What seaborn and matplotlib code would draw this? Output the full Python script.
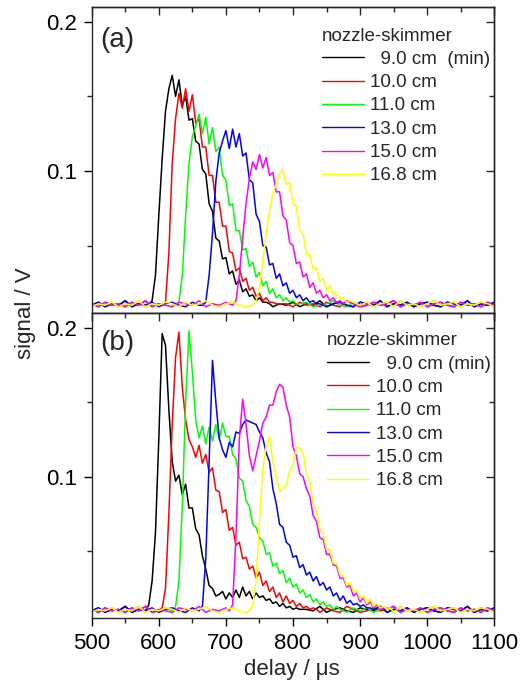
import numpy as np
import pandas as pd
import matplotlib
matplotlib.use("Agg")
import matplotlib.pyplot as plt
from matplotlib.ticker import MultipleLocator
import seaborn as sns

# ---------------- data ----------------
colors = ["#000000", "#ff0000", "#00ff00", "#0000ff", "#ff00ff", "#ffff00"]
labels_a = ["  9.0 cm  (min)", "10.0 cm", "11.0 cm", "13.0 cm", "15.0 cm", "16.8 cm"]
labels_b = ["  9.0 cm (min)", "10.0 cm", "11.0 cm", "13.0 cm", "15.0 cm", "16.8 cm"]

# baseline noise, sampled every 10 us from 500 us
base_1 = [0.010, 0.012, 0.009, 0.011, 0.010, 0.013, 0.009, 0.011, 0.010, 0.012,
          0.009, 0.011, 0.012, 0.010, 0.009, 0.012, 0.010, 0.011, 0.009, 0.013,
          0.010, 0.011, 0.009, 0.012, 0.010, 0.011, 0.013, 0.009, 0.011, 0.010,
          0.012, 0.009, 0.011, 0.010, 0.013, 0.009, 0.011, 0.012, 0.010, 0.009,
          0.012, 0.011, 0.010, 0.013, 0.009, 0.011, 0.010, 0.012, 0.009, 0.011,
          0.012, 0.010, 0.009, 0.012, 0.011, 0.010, 0.013, 0.009, 0.011, 0.010,
          0.012]
base_2 = [0.011, 0.009, 0.012, 0.010, 0.011, 0.009, 0.012, 0.010, 0.013, 0.009,
          0.011, 0.010, 0.009, 0.012, 0.011, 0.010, 0.013, 0.009, 0.011, 0.010,
          0.012, 0.009, 0.011, 0.010, 0.013, 0.010, 0.009, 0.012, 0.010, 0.011,
          0.009, 0.012, 0.010, 0.011, 0.009, 0.012, 0.010, 0.009, 0.013, 0.011,
          0.009, 0.010, 0.012, 0.010, 0.011, 0.013, 0.009, 0.011, 0.010, 0.012,
          0.009, 0.011, 0.012, 0.010, 0.009, 0.012, 0.010, 0.011, 0.009, 0.012,
          0.010]
base_3 = [0.009, 0.011, 0.010, 0.012, 0.009, 0.011, 0.010, 0.013, 0.009, 0.011,
          0.010, 0.012, 0.011, 0.009, 0.012, 0.010, 0.011, 0.013, 0.010, 0.009,
          0.011, 0.012, 0.010, 0.009, 0.011, 0.012, 0.010, 0.011, 0.009, 0.013,
          0.010, 0.011, 0.012, 0.009, 0.010, 0.011, 0.013, 0.010, 0.009, 0.012,
          0.010, 0.012, 0.009, 0.011, 0.012, 0.009, 0.013, 0.010, 0.011, 0.009,
          0.011, 0.013, 0.010, 0.011, 0.012, 0.009, 0.011, 0.010, 0.012, 0.011,
          0.009]
bases = [base_1, base_2, base_3]

# panel (a): pulse start times (us) and signal every 5 us
a_start = [585, 605, 625, 665, 710, 740]
a_black = [0.010, 0.013, 0.030, 0.070, 0.108, 0.140, 0.155, 0.164, 0.150, 0.161,
           0.144, 0.150, 0.134, 0.135, 0.120, 0.118, 0.101, 0.098, 0.078, 0.073,
           0.055, 0.053, 0.041, 0.042, 0.031, 0.033, 0.024, 0.027, 0.019, 0.021,
           0.016, 0.017, 0.013, 0.015, 0.012, 0.012, 0.011]
a_red = [0.010, 0.012, 0.045, 0.105, 0.135, 0.152, 0.142, 0.155, 0.140, 0.151,
         0.132, 0.135, 0.116, 0.116, 0.097, 0.097, 0.079, 0.079, 0.063, 0.063,
         0.046, 0.045, 0.033, 0.035, 0.026, 0.028, 0.020, 0.022, 0.016, 0.018,
         0.013, 0.015, 0.012, 0.012, 0.011, 0.011]
a_green = [0.010, 0.012, 0.030, 0.070, 0.105, 0.123, 0.130, 0.138, 0.125, 0.136,
           0.118, 0.129, 0.113, 0.116, 0.097, 0.094, 0.077, 0.078, 0.060, 0.060,
           0.047, 0.048, 0.036, 0.039, 0.029, 0.032, 0.023, 0.026, 0.018, 0.021,
           0.015, 0.017, 0.013, 0.015, 0.012, 0.013, 0.011, 0.011]
a_blue = [0.010, 0.012, 0.030, 0.058, 0.093, 0.112, 0.120, 0.127, 0.115, 0.128,
          0.116, 0.125, 0.110, 0.112, 0.094, 0.092, 0.071, 0.066, 0.050, 0.049,
          0.037, 0.038, 0.028, 0.031, 0.023, 0.025, 0.018, 0.020, 0.015, 0.017,
          0.013, 0.015, 0.012, 0.013, 0.011, 0.011]
a_magenta = [0.010, 0.013, 0.030, 0.055, 0.078, 0.095, 0.106, 0.101, 0.111, 0.102,
             0.109, 0.097, 0.099, 0.086, 0.086, 0.070, 0.067, 0.052, 0.050, 0.038,
             0.039, 0.029, 0.031, 0.022, 0.025, 0.018, 0.020, 0.015, 0.017, 0.013,
             0.015, 0.012, 0.013, 0.011]
a_yellow = [0.010, 0.013, 0.022, 0.040, 0.058, 0.073, 0.085, 0.091, 0.098, 0.101,
            0.091, 0.092, 0.078, 0.076, 0.060, 0.058, 0.044, 0.044, 0.034, 0.035,
            0.026, 0.028, 0.020, 0.023, 0.017, 0.018, 0.014, 0.015, 0.012, 0.013,
            0.012, 0.011]

# panel (b)
b_start = [580, 600, 620, 660, 705, 735]
b_black = [0.010, 0.014, 0.030, 0.062, 0.125, 0.196, 0.188, 0.145, 0.110, 0.097,
           0.101, 0.088, 0.095, 0.079, 0.079, 0.065, 0.061, 0.047, 0.038, 0.027,
           0.025, 0.020, 0.021, 0.023, 0.018, 0.022, 0.019, 0.024, 0.019, 0.026,
           0.020, 0.023, 0.018, 0.022, 0.019, 0.020, 0.017, 0.018, 0.015, 0.016,
           0.013, 0.015, 0.012, 0.013, 0.011, 0.012, 0.011]
b_red = [0.010, 0.012, 0.025, 0.075, 0.135, 0.180, 0.197, 0.160, 0.138, 0.125,
         0.120, 0.113, 0.121, 0.109, 0.115, 0.103, 0.106, 0.091, 0.090, 0.076,
         0.078, 0.064, 0.066, 0.054, 0.056, 0.045, 0.046, 0.038, 0.040, 0.032,
         0.036, 0.027, 0.030, 0.023, 0.026, 0.019, 0.022, 0.016, 0.020, 0.015,
         0.017, 0.013, 0.015, 0.012, 0.013, 0.011, 0.012, 0.011]
b_green = [0.010, 0.013, 0.030, 0.080, 0.150, 0.198, 0.170, 0.138, 0.126, 0.134,
           0.122, 0.133, 0.124, 0.135, 0.125, 0.136, 0.127, 0.127, 0.115, 0.112,
           0.099, 0.097, 0.084, 0.080, 0.068, 0.066, 0.059, 0.057, 0.048, 0.049,
           0.040, 0.042, 0.035, 0.037, 0.029, 0.032, 0.026, 0.028, 0.022, 0.024,
           0.019, 0.021, 0.016, 0.018, 0.014, 0.016, 0.013, 0.014, 0.011, 0.013,
           0.011]
b_blue = [0.010, 0.013, 0.045, 0.110, 0.178, 0.150, 0.126, 0.118, 0.113, 0.123,
          0.120, 0.130, 0.129, 0.135, 0.138, 0.137, 0.136, 0.135, 0.130, 0.126,
          0.116, 0.110, 0.092, 0.082, 0.068, 0.066, 0.056, 0.054, 0.046, 0.047,
          0.039, 0.041, 0.034, 0.036, 0.030, 0.033, 0.027, 0.029, 0.024, 0.026,
          0.020, 0.022, 0.017, 0.020, 0.015, 0.017, 0.014, 0.015, 0.013, 0.014,
          0.012, 0.012, 0.011]
b_magenta = [0.010, 0.014, 0.060, 0.125, 0.152, 0.135, 0.114, 0.104, 0.114, 0.124,
             0.136, 0.140, 0.148, 0.148, 0.157, 0.162, 0.160, 0.148, 0.140, 0.120,
             0.114, 0.102, 0.100, 0.092, 0.087, 0.074, 0.070, 0.059, 0.058, 0.048,
             0.048, 0.041, 0.040, 0.032, 0.032, 0.026, 0.027, 0.020, 0.022, 0.016,
             0.019, 0.014, 0.016, 0.012, 0.014, 0.011, 0.012]
b_yellow = [0.010, 0.014, 0.030, 0.070, 0.105, 0.121, 0.127, 0.110, 0.100, 0.090,
            0.092, 0.094, 0.104, 0.108, 0.120, 0.119, 0.116, 0.102, 0.097, 0.082,
            0.077, 0.065, 0.062, 0.051, 0.051, 0.042, 0.042, 0.034, 0.034, 0.027,
            0.029, 0.023, 0.024, 0.018, 0.020, 0.015, 0.018, 0.013, 0.015, 0.012,
            0.013, 0.011, 0.012]

a_series = [a_black, a_red, a_green, a_blue, a_magenta, a_yellow]
b_series = [b_black, b_red, b_green, b_blue, b_magenta, b_yellow]


def build(starts, series, labels):
    rows = []
    for i, (t0, vals, lab) in enumerate(zip(starts, series, labels)):
        base = np.asarray(bases[i % 3])
        tb = 500 + 10 * np.arange(len(base))
        tp = t0 + 5 * np.arange(len(vals))
        before = tb < tp[0]
        after = tb > tp[-1]
        t = np.concatenate([tb[before], tp, tb[after]])
        v = np.concatenate([base[before], np.asarray(vals), base[after]])
        rows.append(pd.DataFrame({"t": t, "v": v, "series": lab}))
    return pd.concat(rows, ignore_index=True)


df_a = build(a_start, a_series, labels_a)
df_b = build(b_start, b_series, labels_b)

# ---------------- styling ----------------
sns.set_style("ticks")
plt.rcParams["font.family"] = ["Liberation Sans", "DejaVu Sans"]
plt.rcParams["axes.linewidth"] = 1.0

fig = plt.figure(figsize=(5.23, 6.86), dpi=100)
L, R = 91.7 / 523, 494.3 / 523
ax_a = fig.add_axes([L, 1 - 312.7 / 686, R - L, (312.7 - 6.7) / 686])
ax_b = fig.add_axes([L, 1 - 618.3 / 686, R - L, (618.3 - 312.7) / 686])

panels = [(ax_a, df_a, labels_a, "(a)", (0.571, 0.932), 0.89),
          (ax_b, df_b, labels_b, "(b)", (0.584, 0.936), 0.90)]

for ax, df, labs, tag, anchor, tag_y in panels:
    sns.lineplot(data=df, x="t", y="v", hue="series", hue_order=labs,
                 palette=colors, ax=ax, lw=1.1, sort=False, estimator=None,
                 units="series")
    ax.set_xlim(500, 1100)
    ax.set_ylim(0.005, 0.21)
    ax.set_xlabel("")
    ax.set_ylabel("")
    ax.set_yticks([0.1, 0.2], ["0.1", "0.2"])
    ax.yaxis.set_minor_locator(MultipleLocator(0.05))
    ax.xaxis.set_major_locator(MultipleLocator(100))
    ax.xaxis.set_minor_locator(MultipleLocator(50))
    ax.tick_params(which="major", direction="out", length=5.8, width=1.0,
                   labelsize=16, pad=4.5, colors="black")
    ax.tick_params(which="minor", direction="out", length=3.4, width=1.0)
    for side in ["top", "right"]:
        ax.spines[side].set_visible(True)
    secx = ax.secondary_xaxis("top")
    secx.xaxis.set_major_locator(MultipleLocator(100))
    secx.xaxis.set_minor_locator(MultipleLocator(50))
    secx.tick_params(which="major", direction="in", length=5.8, width=1.0, labeltop=False)
    secx.tick_params(which="minor", direction="in", length=3.6, width=1.0)
    secy = ax.secondary_yaxis("right")
    secy.set_yticks([0.1, 0.2])
    secy.yaxis.set_minor_locator(MultipleLocator(0.05))
    secy.tick_params(which="major", direction="in", length=5.8, width=1.0, labelright=False)
    secy.tick_params(which="minor", direction="in", length=3.6, width=1.0)

    handles, hl = ax.get_legend_handles_labels()
    leg = ax.legend(handles, hl, title="nozzle-skimmer", loc="upper left",
                    bbox_to_anchor=anchor, frameon=False, fontsize=13.5,
                    title_fontsize=13.5, handlelength=2.25, handletextpad=0.35,
                    labelspacing=0.33, borderpad=0, borderaxespad=0,
                    alignment="left")
    for ln in leg.get_lines():
        ln.set_linewidth(1.0)
    ax.text(0.02, tag_y, tag, transform=ax.transAxes, fontsize=20,
            ha="left", va="center")

ax_a.tick_params(axis="x", labelbottom=False)

fig.text(26 / 523, 1 - 313 / 686, "signal / V", rotation=90, fontsize=16,
         ha="center", va="center")
fig.text(292 / 523, 1 - 669 / 686, "delay / \u03bcs", fontsize=16,
         ha="center", va="center")

fig.savefig("out.png", dpi=100)
